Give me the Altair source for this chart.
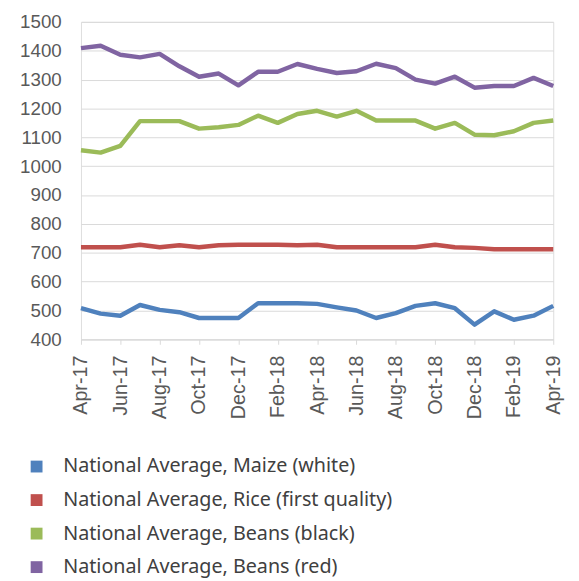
import altair as alt
import pandas as pd

months = ["Apr-17","May-17","Jun-17","Jul-17","Aug-17","Sep-17","Oct-17","Nov-17","Dec-17",
          "Jan-18","Feb-18","Mar-18","Apr-18","May-18","Jun-18","Jul-18","Aug-18","Sep-18",
          "Oct-18","Nov-18","Dec-18","Jan-19","Feb-19","Mar-19","Apr-19"]
tick_labels = months[::2]

series = ["National Average, Maize (white)", "National Average, Rice (first quality)",
          "National Average, Beans (black)", "National Average, Beans (red)"]
colors = ["#4F81BD", "#C0504D", "#9BBB59", "#8064A2"]

maize = [508, 489, 482, 519, 502, 494, 474, 474, 474, 525, 525, 525, 523, 511, 500, 474, 491, 516,
         525, 508, 451, 497, 468, 482, 516]
rice = [719, 719, 719, 728, 719, 726, 719, 726, 728, 728, 728, 726, 728, 719, 719, 719, 719, 719,
        728, 719, 717, 712, 712, 712, 712]
beans_black = [1055, 1047, 1070, 1156, 1156, 1156, 1130, 1135, 1143, 1175, 1150, 1181, 1192, 1172,
               1192, 1158, 1158, 1158, 1130, 1150, 1109, 1107, 1121, 1150, 1158]
beans_red = [1409, 1417, 1386, 1377, 1389, 1346, 1310, 1321, 1280, 1327, 1327, 1354, 1337, 1323,
             1329, 1355, 1340, 1300, 1286, 1310, 1272, 1278, 1278, 1306, 1278]

rows = []
for name, vals in zip(series, [maize, rice, beans_black, beans_red]):
    for i, v in enumerate(vals):
        rows.append({"idx": i, "month": months[i], "series": name, "value": v})
df = pd.DataFrame(rows)

label_arr = "[" + ",".join("'" + t + "'" for t in tick_labels) + "]"

chart = alt.Chart(df).mark_line(strokeWidth=4.5, strokeJoin="round").encode(
    x=alt.X("idx:Q", scale=alt.Scale(domain=[0, 24], nice=False, zero=False),
            axis=alt.Axis(values=list(range(0, 25, 2)), labelExpr=label_arr + "[datum.value/2]",
                          labelAngle=-90, labelAlign="right", labelBaseline="middle",
                          grid=False, domainColor="#D9D9D9", tickColor="#D9D9D9", tickSize=5,
                          labelColor="#595959", labelFontSize=20, labelFont="Liberation Sans",
                          labelPadding=11, title=None)),
    y=alt.Y("value:Q", scale=alt.Scale(domain=[400, 1500], nice=False, zero=False),
            axis=alt.Axis(values=list(range(400, 1501, 100)), format="d", domain=False, ticks=False,
                          gridColor="#D9D9D9", labelColor="#595959", labelFontSize=19,
                          labelFont="Liberation Sans", labelPadding=20, title=None)),
    color=alt.Color("series:N", sort=series,
                    scale=alt.Scale(domain=series, range=colors),
                    legend=alt.Legend(orient="none", legendX=-55, legendY=441, direction="vertical",
                                      title=None, symbolType="square", symbolSize=36,
                                      symbolStrokeWidth=6, labelFontSize=20, labelFont="Noto Sans",
                                      labelColor="#404040", labelOffset=17, rowPadding=4,
                                      labelLimit=500)),
    order=alt.Order("idx:Q"),
).properties(
    width=479, height=322,
    autosize=alt.AutoSizeParams(type="none"),
    padding={"left": 74, "top": 10, "right": 18, "bottom": 240},
).configure_view(stroke=None).configure(background="white")

chart.save("out.html", embed_options={"renderer": "svg", "actions": False})
